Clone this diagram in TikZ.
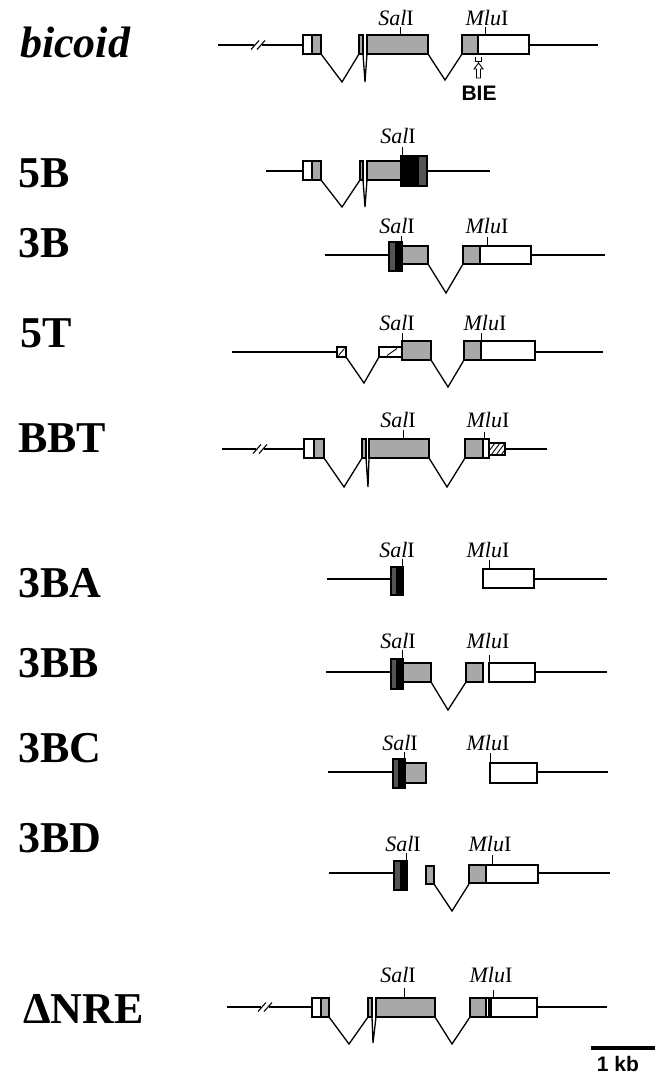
\documentclass[tikz,border=0pt]{standalone}
\usepackage{fontspec}
\setmainfont{Liberation Serif}
\newfontfamily\arialf{Liberation Sans}
\definecolor{exg}{gray}{0.66}
\definecolor{exd}{gray}{0.33}
\tikzset{
  bb/.style={line width=1.9pt},
  exon/.style={draw=black, line width=1.1pt},
  intron/.style={line width=1.3pt, line join=miter},
  sitetick/.style={line width=0.9pt},
  site/.style={font=\fontsize{22}{22}\selectfont, anchor=base, inner sep=0pt},
  rowlab/.style={font=\fontsize{44}{44}\selectfont\bfseries, anchor=base west, inner sep=0pt},
  brk/.style={line width=1.1pt},
  hatch/.style={line width=0.9pt}
}
% exon box: x1 x2 ytop ybot fill
\newcommand\exbox[5]{\draw[exon,fill=#5] (#1,#3) rectangle (#2,#4);}
% intron: x1 ybottom xmid ydeep x2
\newcommand\intr[5]{\draw[intron] (#1,#2) -- (#3,#4) -- (#5,#2);}
\newcommand\salsite[5]{\draw[sitetick] (#1,#2) -- (#1,#3); \node[site] (#5) at (#4) {\textit{Sal}I};}
\newcommand\mlusite[5]{\draw[sitetick] (#1,#2) -- (#1,#3); \node[site] (#5) at (#4) {\textit{Mlu}I};}
\newcommand\brkmark[2]{\draw[brk] (#1,#2+4.5) -- (#1+8,#2-4.5); \draw[brk] (#1+6,#2+4.5) -- (#1+14,#2-4.5);}
\begin{document}
\begin{tikzpicture}[x=1pt,y=-1pt]
\useasboundingbox (0,0) rectangle (655,1074);
\fill[white] (0,0) rectangle (655,1074);

% ---------------- labels ----------------
\node[rowlab] (lbic) at (20,57) {\textit{bicoid}};
\node[rowlab] (l5b) at (18,187) {5B};
\node[rowlab] (l3b) at (18,257) {3B};
\node[rowlab] (l5t) at (20,347) {5T};
\node[rowlab] (lbbt) at (18,452) {BBT};
\node[rowlab] (l3ba) at (18,597) {3BA};
\node[rowlab] (l3bb) at (18,677) {3BB};
\node[rowlab] (l3bc) at (18,762) {3BC};
\node[rowlab] (l3bd) at (18,852) {3BD};
\node[rowlab] (lnre) at (23,1023) {ΔNRE};

% ---------------- bicoid ----------------
\draw[bb] (218,45) -- (254,45);
\draw[bb] (262,45) -- (303,45);
\brkmark{251}{45}
\draw[bb] (529,45) -- (598,45);
\intr{321}{54}{342}{82}{359}
\intr{363}{54}{365}{82}{367}
\intr{428}{54}{445}{80}{462}
\exbox{303}{312}{35}{54}{white}
\exbox{312}{321}{35}{54}{exg}
\exbox{359}{363}{35}{54}{exg}
\exbox{367}{428}{35}{54}{exg}
\exbox{462}{478}{35}{54}{exg}
\exbox{478}{529}{35}{54}{white}
\salsite{400}{35}{27}{396,25}{s1}
\mlusite{485}{35}{27}{487,25}{m1}
\draw[line width=0.8pt] (475.5,56.5) -- (475.5,61) -- (481.5,61) -- (481.5,56.5);
\draw[line width=0.8pt] (478.5,61) -- (478.5,63);
\draw[line width=0.9pt, fill=white] (478.5,63) -- (483,69) -- (480.5,69) -- (480.5,78) -- (476.5,78) -- (476.5,69) -- (474,69) -- cycle;
\node[font=\arialf\bfseries\fontsize{21}{21}\selectfont, inner sep=0pt] (bie) at (479,93) {BIE};

% ---------------- 5B ----------------
\draw[bb] (266,171) -- (303,171);
\draw[bb] (427,171) -- (490,171);
\intr{321}{180}{342}{207}{360}
\intr{363}{180}{365}{207}{367}
\exbox{303}{312}{161}{180}{white}
\exbox{312}{321}{161}{180}{exg}
\exbox{360}{363}{161}{180}{exg}
\exbox{367}{401}{161}{180}{exg}
\exbox{401}{418}{156}{186}{black}
\exbox{418}{427}{156}{186}{exd}
\salsite{402}{156}{147}{398,143}{s2}

% ---------------- 3B ----------------
\draw[bb] (325,255) -- (389,255);
\draw[bb] (531,255) -- (605,255);
\intr{428}{264}{446}{293}{463}
\exbox{389}{396}{242}{271}{exd}
\exbox{396}{402}{242}{271}{black}
\exbox{402}{428}{246}{264}{exg}
\exbox{463}{480}{246}{264}{exg}
\exbox{480}{531}{246}{264}{white}
\salsite{401}{242}{236}{397,233}{s3}
\mlusite{487}{246}{237}{487,233}{m3}

% ---------------- 5T ----------------
\draw[bb] (232,352) -- (337,352);
\draw[bb] (535,352) -- (603,352);
\intr{346}{357}{364}{383}{379}
\intr{431}{360}{448}{387}{464}
\exbox{337}{346}{347}{357}{white}
\draw[hatch] (338.5,355.5) -- (344.5,348.5);
\exbox{379}{402}{347}{357}{white}
\draw[hatch] (387,355.5) -- (397,348.5);
\exbox{402}{431}{341}{360}{exg}
\exbox{464}{481}{341}{360}{exg}
\exbox{481}{535}{341}{360}{white}
\salsite{402}{341}{333}{397,330}{s4}
\mlusite{481}{341}{333}{485,330}{m4}

% ---------------- BBT ----------------
\draw[bb] (222,449) -- (256,449);
\draw[bb] (264,449) -- (304,449);
\brkmark{253}{449}
\draw[bb] (505,449) -- (547,449);
\intr{324}{458}{344}{487}{362}
\intr{366}{458}{368}{487}{369}
\intr{429}{458}{447}{487}{465}
\exbox{304}{314}{439}{458}{white}
\exbox{314}{324}{439}{458}{exg}
\exbox{362}{366}{439}{458}{exg}
\exbox{369}{429}{439}{458}{exg}
\exbox{465}{483}{439}{458}{exg}
\exbox{483}{489}{439}{458}{white}
\exbox{489}{505}{443}{455}{white}
\begin{scope}
\clip (489,443) rectangle (505,455);
\foreach \hx in {481,486,...,511} {\draw[hatch] (\hx,455) -- (\hx+9,443);}
\end{scope}
\draw[exon] (489,443) rectangle (505,455);
\salsite{403}{439}{430}{398,427}{s5}
\mlusite{484}{439}{432}{488,427}{m5}

% ---------------- 3BA ----------------
\draw[bb] (327,579) -- (391,579);
\draw[bb] (534,579) -- (607,579);
\exbox{391}{397}{567}{595}{exd}
\exbox{397}{403}{567}{595}{black}
\exbox{483}{534}{569}{588}{white}
\salsite{402}{567}{559}{397,557}{s6}
\mlusite{489}{569}{560}{488,557}{m6}

% ---------------- 3BB ----------------
\draw[bb] (326,672) -- (391,672);
\draw[bb] (535,672) -- (607,672);
\intr{431}{682}{448}{710}{466}
\exbox{391}{397}{659}{689}{exd}
\exbox{397}{403}{659}{689}{black}
\exbox{403}{431}{663}{682}{exg}
\exbox{466}{483}{663}{682}{exg}
\exbox{489}{535}{663}{682}{white}
\salsite{402}{659}{650}{398,648}{s7}
\mlusite{489}{663}{655}{488,648}{m7}

% ---------------- 3BC ----------------
\draw[bb] (328,772) -- (393,772);
\draw[bb] (537,772) -- (608,772);
\exbox{393}{399}{759}{788}{exd}
\exbox{399}{405}{759}{788}{black}
\exbox{405}{426}{763}{783}{exg}
\exbox{490}{537}{763}{783}{white}
\salsite{404}{759}{752}{400,750}{s8}
\mlusite{490}{763}{753}{488,750}{m8}

% ---------------- 3BD ----------------
\draw[bb] (329,873) -- (394,873);
\draw[bb] (538,873) -- (610,873);
\intr{434}{884}{452}{911}{469}
\exbox{394}{401}{861}{890}{exd}
\exbox{401}{407}{861}{890}{black}
\exbox{426}{434}{866}{884}{exg}
\exbox{469}{486}{865}{883}{exg}
\exbox{486}{538}{865}{883}{white}
\salsite{406}{861}{853}{403,851}{s9}
\mlusite{492}{865}{855}{490,851}{m9}

% ---------------- Delta NRE ----------------
\draw[bb] (227,1007) -- (261,1007);
\draw[bb] (269,1007) -- (312,1007);
\brkmark{258}{1007}
\draw[bb] (537,1007) -- (607,1007);
\intr{329}{1017}{349}{1044}{368}
\intr{372}{1017}{373}{1043}{376}
\intr{435}{1017}{452}{1044}{470}
\exbox{312}{321}{998}{1017}{white}
\exbox{321}{329}{998}{1017}{exg}
\exbox{368}{372}{998}{1017}{exg}
\exbox{376}{435}{998}{1017}{exg}
\exbox{470}{486}{998}{1017}{exg}
\exbox{486}{489}{998}{1017}{white}
\exbox{491}{537}{998}{1017}{white}
\salsite{404}{998}{988}{398,982}{s10}
\mlusite{493}{998}{990}{491,982}{m10}

% ---------------- scale bar ----------------
\coordinate (sbl) at (591,1048);
\coordinate (sbr) at (655,1048);
\draw[line width=4pt] (sbl) -- (sbr);
\node[font=\arialf\bfseries\fontsize{21}{21}\selectfont, inner sep=0pt] (kb) at (618,1064) {1 kb};
\end{tikzpicture}
\end{document}
